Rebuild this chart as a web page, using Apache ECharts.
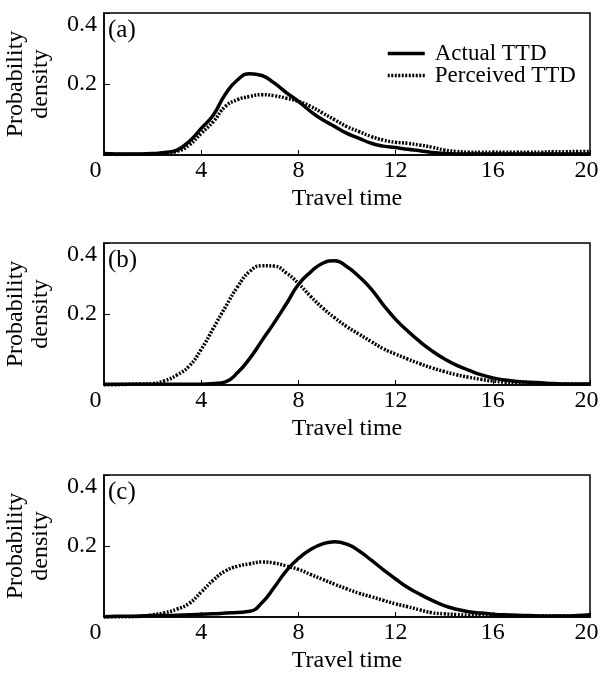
<!DOCTYPE html>
<html>
<head>
<meta charset="utf-8">
<title>Travel time distributions</title>
<script src="https://cdn.jsdelivr.net/npm/echarts@6/dist/echarts.min.js"></script>
<style>
  html, body { margin: 0; padding: 0; background: #fff; }
  #chart { width: 600px; height: 676px; }
</style>
</head>
<body>
<div id="chart"></div>
<script>
// Travel time sample points (x axis)
const travelTime = [0, 0.5, 1, 1.5, 2, 2.5, 3, 3.5, 4, 4.5, 5, 5.5, 6, 6.5, 7, 7.5, 8, 8.5, 9, 9.5,
  10, 10.5, 11, 11.5, 12, 12.5, 13, 13.5, 14, 14.5, 15, 15.5, 16, 16.5, 17, 17.5, 18, 18.5, 19, 19.5, 20];

// Panel (a)
const actualA = [0.004, 0.003, 0.003, 0.003, 0.004, 0.007, 0.014, 0.038, 0.075, 0.113, 0.172, 0.212, 0.229, 0.224, 0.203, 0.176, 0.151, 0.123, 0.099, 0.080,
  0.061, 0.047, 0.033, 0.025, 0.021, 0.016, 0.012, 0.007, 0.004, 0.003, 0.003, 0.003, 0.003, 0.003, 0.003, 0.003, 0.003, 0.003, 0.003, 0.003, 0.003];
const perceivedA = [0.002, 0.002, 0.002, 0.002, 0.003, 0.005, 0.010, 0.028, 0.061, 0.094, 0.137, 0.156, 0.165, 0.170, 0.167, 0.160, 0.151, 0.137, 0.118, 0.099,
  0.080, 0.066, 0.052, 0.042, 0.036, 0.033, 0.028, 0.022, 0.014, 0.010, 0.008, 0.008, 0.008, 0.008, 0.008, 0.008, 0.008, 0.009, 0.009, 0.010, 0.010];

// Panel (b)
const actualB = [0.002, 0.002, 0.002, 0.002, 0.002, 0.002, 0.002, 0.002, 0.002, 0.004, 0.009, 0.035, 0.075, 0.125, 0.175, 0.228, 0.283, 0.318, 0.343, 0.350,
  0.333, 0.305, 0.270, 0.225, 0.185, 0.152, 0.122, 0.096, 0.074, 0.056, 0.042, 0.029, 0.020, 0.014, 0.010, 0.008, 0.006, 0.004, 0.003, 0.003, 0.003];
const perceivedB = [0.001, 0.001, 0.002, 0.003, 0.004, 0.012, 0.028, 0.053, 0.100, 0.160, 0.220, 0.277, 0.320, 0.336, 0.335, 0.316, 0.286, 0.250, 0.217, 0.189,
  0.164, 0.143, 0.122, 0.102, 0.087, 0.073, 0.060, 0.048, 0.038, 0.029, 0.022, 0.016, 0.011, 0.008, 0.006, 0.005, 0.004, 0.003, 0.003, 0.002, 0.002];

// Panel (c)
const actualC = [0.001, 0.002, 0.002, 0.003, 0.004, 0.004, 0.005, 0.006, 0.008, 0.009, 0.011, 0.013, 0.016, 0.040, 0.083, 0.130, 0.165, 0.190, 0.206, 0.212,
  0.205, 0.186, 0.160, 0.133, 0.107, 0.083, 0.064, 0.047, 0.032, 0.022, 0.015, 0.011, 0.008, 0.006, 0.005, 0.004, 0.003, 0.003, 0.003, 0.004, 0.006];
const perceivedC = [0.001, 0.001, 0.001, 0.002, 0.006, 0.012, 0.022, 0.038, 0.070, 0.104, 0.130, 0.143, 0.150, 0.155, 0.152, 0.144, 0.134, 0.120, 0.106, 0.092,
  0.079, 0.067, 0.057, 0.047, 0.037, 0.029, 0.020, 0.012, 0.009, 0.007, 0.005, 0.004, 0.003, 0.003, 0.003, 0.003, 0.003, 0.003, 0.003, 0.003, 0.003];

const panelLabels = ['(a)', '(b)', '(c)'];
const seriesNames = ['Actual TTD', 'Perceived TTD'];
const xTicks = [0, 4, 8, 12, 16, 20];
const yTicks = [0.2, 0.4];
const panels = [[actualA, perceivedA], [actualB, perceivedB], [actualC, perceivedC]];

const FONT = '"Liberation Serif", "Times New Roman", serif';
const gridTops = [13, 243, 475];
const gridH = 142;

// Line looks shared by the curves and their legend samples
const actualLine = { color: '#000', width: 3.5, type: 'solid' };
const perceivedLine = { color: '#000', width: 3.5, type: [2, 1.5] };

const grids = [], xAxes = [], yAxes = [], series = [], graphics = [];

panels.forEach(function (pair, i) {
  grids.push({
    left: 104, width: 486, top: gridTops[i], height: gridH,
    outerBoundsMode: 'none',
    show: true, borderColor: '#000', borderWidth: 1.5, backgroundColor: 'transparent'
  });
  xAxes.push({
    gridIndex: i, type: 'value', min: 0, max: 20, interval: 4,
    name: 'Travel time', nameLocation: 'middle', nameGap: 32,
    nameTextStyle: { fontFamily: FONT, fontSize: 24, color: '#000' },
    axisLine: { show: true, lineStyle: { color: '#000', width: 1.5 } },
    axisTick: { show: true, inside: true, length: 5, lineStyle: { color: '#000', width: 1 } },
    axisLabel: {
      fontFamily: FONT, fontSize: 24, color: '#000', margin: 4,
      formatter: function (v) {
        if (v === 0) return '{o|0}';
        if (v === 20) return '{e|20}';
        return xTicks.indexOf(v) >= 0 ? String(v) : '';
      },
      rich: {
        o: { fontFamily: FONT, fontSize: 24, color: '#000', padding: [0, 17, 0, 0] },
        e: { fontFamily: FONT, fontSize: 24, color: '#000', padding: [0, 7, 0, 0] }
      }
    },
    splitLine: { show: false }
  });
  yAxes.push({
    gridIndex: i, type: 'value', min: 0, max: 0.4, interval: 0.2,
    name: 'Probability\ndensity', nameLocation: 'middle', nameGap: 51, nameRotate: 90,
    nameTextStyle: { fontFamily: FONT, fontSize: 24, color: '#000', lineHeight: 25 },
    axisLine: { show: true, lineStyle: { color: '#000', width: 1.5 } },
    axisTick: { show: true, inside: true, length: 6, lineStyle: { color: '#000', width: 1 } },
    axisLabel: {
      fontFamily: FONT, fontSize: 24, color: '#000', margin: 7,
      verticalAlignMaxLabel: 'top',
      formatter: function (v) { return yTicks.indexOf(v) >= 0 ? v.toFixed(1) : ''; }
    },
    splitLine: { show: false }
  });
  series.push({
    name: seriesNames[0], type: 'line', xAxisIndex: i, yAxisIndex: i,
    data: travelTime.map(function (t, k) { return [t, pair[0][k]]; }),
    symbol: 'none', smooth: 0.5, clip: false, z: 3,
    itemStyle: { color: '#000' },
    lineStyle: actualLine
  });
  series.push({
    name: seriesNames[1], type: 'line', xAxisIndex: i, yAxisIndex: i,
    data: travelTime.map(function (t, k) { return [t, pair[1][k]]; }),
    symbol: 'none', smooth: 0.5, clip: false, z: 2,
    itemStyle: { color: '#000' },
    lineStyle: perceivedLine
  });
  graphics.push({
    type: 'text', left: 108, top: gridTops[i] + 5,
    style: { text: panelLabels[i], font: '25px ' + FONT, fill: '#000' }
  });
});

const chart = echarts.init(document.getElementById('chart'), null, { renderer: 'canvas' });
chart.setOption({
  backgroundColor: '#fff',
  animation: false,
  grid: grids,
  xAxis: xAxes,
  yAxis: yAxes,
  series: series,
  graphic: graphics,
  legend: {
    data: [
      { name: seriesNames[0], itemStyle: { opacity: 0 }, lineStyle: actualLine },
      { name: seriesNames[1], itemStyle: { opacity: 0 }, lineStyle: perceivedLine }
    ],
    orient: 'vertical', left: 386, top: 42, padding: 0,
    itemWidth: 37, itemHeight: 10, itemGap: -1,
    textStyle: { fontFamily: FONT, fontSize: 23, color: '#000', lineHeight: 20, padding: [0, 0, 0, 5] },
    selectedMode: false
  }
});
</script>
</body>
</html>
